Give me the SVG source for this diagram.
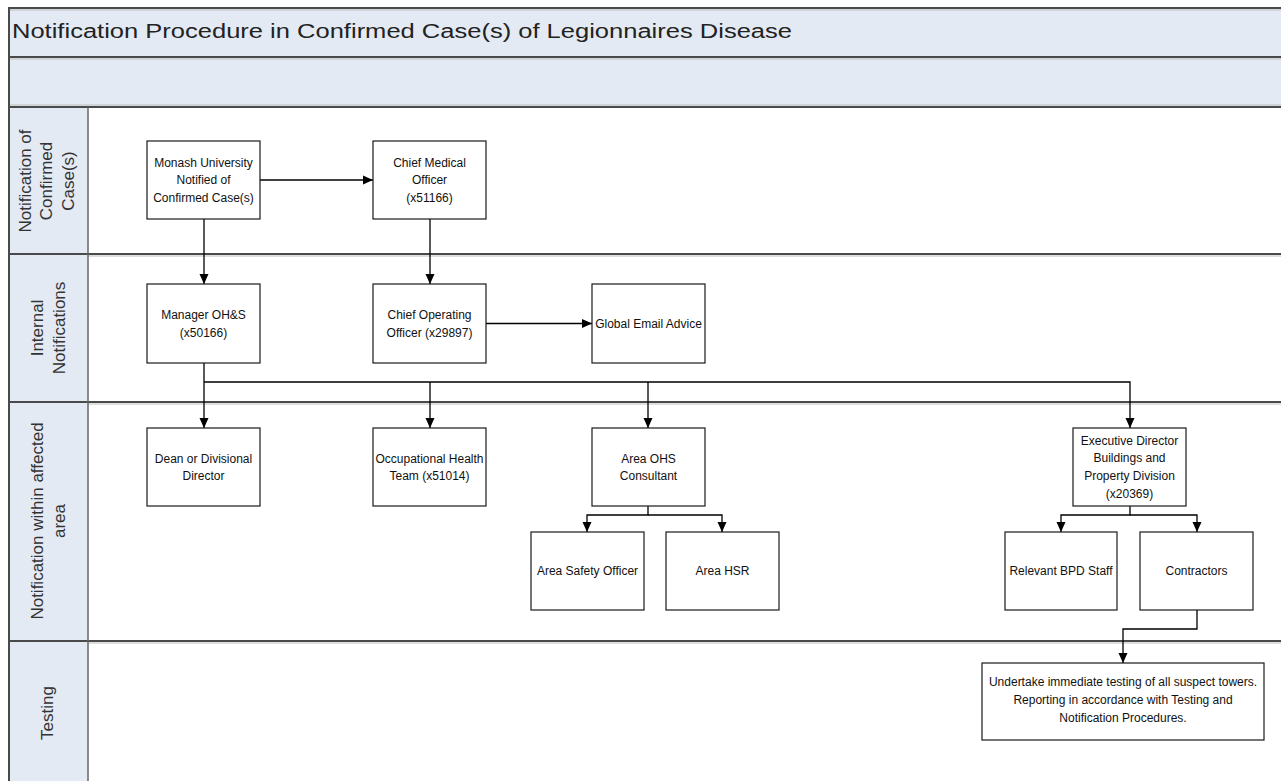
<svg xmlns="http://www.w3.org/2000/svg" width="1281" height="781" viewBox="0 0 1281 781">
<style>
.band{fill:#E4EAF4;stroke:none}
.sep{stroke:#4a4a4a;stroke-width:2;fill:none}
.sepl{stroke:#bdbdbd;stroke-width:1;fill:none}
.node rect{fill:#fff;stroke:#1a1a1a;stroke-width:1.2}
.node text{font-family:"Liberation Sans",Arial,sans-serif;font-size:12px;fill:#111;text-anchor:middle}
.lane text{font-family:"Liberation Sans",Arial,sans-serif;font-size:17px;fill:#333;text-anchor:middle}
.conn path{fill:none;stroke:#000;stroke-width:1.3}
</style>
<defs>
<marker id="arr" markerUnits="userSpaceOnUse" markerWidth="10" markerHeight="10" viewBox="0 0 10 10" refX="10" refY="5" orient="auto">
<path d="M0,0.5 L10,5 L0,9.5 Z" fill="#000"/>
</marker>
</defs>
<rect x="0" y="0" width="1281" height="781" fill="#fff"/>
<g id="frame">
<rect class="band" x="9" y="8" width="1272" height="99"/>
<rect class="band" x="9" y="107" width="79" height="680"/>
<line class="sepl" x1="9" y1="10" x2="1281" y2="10"/>
<line class="sep" x1="9" y1="8" x2="1281" y2="8"/>
<line class="sepl" x1="9" y1="59" x2="1281" y2="59"/>
<line class="sep" x1="9" y1="57" x2="1281" y2="57"/>
<line class="sepl" x1="9" y1="105" x2="1281" y2="105"/>
<line class="sep" x1="9" y1="107" x2="1281" y2="107"/>
<line class="sepl" x1="88" y1="256" x2="1281" y2="256"/>
<line class="sep" x1="9" y1="254" x2="1281" y2="254"/>
<line class="sepl" x1="88" y1="404" x2="1281" y2="404"/>
<line class="sep" x1="9" y1="402" x2="1281" y2="402"/>
<line class="sepl" x1="88" y1="643" x2="1281" y2="643"/>
<line class="sep" x1="9" y1="641" x2="1281" y2="641"/>
<line class="sep" x1="9" y1="7" x2="9" y2="781"/>
<line class="sep" x1="88" y1="107" x2="88" y2="781" style="stroke:#666;stroke-width:1.5"/>
<text x="12" y="38" font-family="'Liberation Sans',Arial,sans-serif" font-size="20" fill="#222" textLength="780" lengthAdjust="spacingAndGlyphs">Notification Procedure in Confirmed Case(s) of Legionnaires Disease</text>
</g>
<g class="lane" id="lane1"><text transform="translate(0,181) rotate(-90)"><tspan x="0" y="31">Notification of</tspan><tspan x="0" y="52">Confirmed</tspan><tspan x="0" y="74">Case(s)</tspan></text></g>
<g class="lane" id="lane2"><text transform="translate(0,328) rotate(-90)"><tspan x="0" y="43">Internal</tspan><tspan x="0" y="65">Notifications</tspan></text></g>
<g class="lane" id="lane3"><text transform="translate(0,521) rotate(-90)"><tspan x="0" y="43">Notification within affected</tspan><tspan x="0" y="65">area</tspan></text></g>
<g class="lane" id="lane4"><text transform="translate(0,713) rotate(-90)"><tspan x="0" y="53">Testing</tspan></text></g>

<g class="conn" id="connectors">
<path d="M260,180 H373" marker-end="url(#arr)"/>
<path d="M204,219 V284" marker-end="url(#arr)"/>
<path d="M430,219 V284" marker-end="url(#arr)"/>
<path d="M486,323.5 H592" marker-end="url(#arr)"/>
<path d="M204,363 V428" marker-end="url(#arr)"/>
<path d="M204,382 H1130 V428" marker-end="url(#arr)"/>
<path d="M430,382 V428" marker-end="url(#arr)"/>
<path d="M648,382 V428" marker-end="url(#arr)"/>
<path d="M648,506 V515 H587 V532" marker-end="url(#arr)"/>
<path d="M648,515 H722 V532" marker-end="url(#arr)"/>
<path d="M1130,506 V515 H1061 V532" marker-end="url(#arr)"/>
<path d="M1130,515 H1197 V532" marker-end="url(#arr)"/>
<path d="M1197,610 V629 H1123 V663" marker-end="url(#arr)"/>
</g>

<g class="node" id="monash"><rect x="147" y="141" width="113" height="78"/><text x="203.5" y="166.5">Monash University</text><text x="203.5" y="184">Notified of</text><text x="203.5" y="201.5">Confirmed Case(s)</text></g>
<g class="node" id="cmo"><rect x="373" y="141" width="113" height="78"/><text x="429.5" y="166.5">Chief Medical</text><text x="429.5" y="184">Officer</text><text x="429.5" y="201.5">(x51166)</text></g>
<g class="node" id="manager"><rect x="147" y="284" width="113" height="79"/><text x="203.5" y="319">Manager OH&amp;S</text><text x="203.5" y="337">(x50166)</text></g>
<g class="node" id="coo"><rect x="373" y="284" width="113" height="79"/><text x="429.5" y="319">Chief Operating</text><text x="429.5" y="337">Officer (x29897)</text></g>
<g class="node" id="email"><rect x="592" y="284" width="113" height="79"/><text x="648.5" y="328">Global Email Advice</text></g>
<g class="node" id="dean"><rect x="147" y="428" width="113" height="78"/><text x="203.5" y="462.5">Dean or Divisional</text><text x="203.5" y="479.5">Director</text></g>
<g class="node" id="occ"><rect x="373" y="428" width="113" height="78"/><text x="429.5" y="462.5">Occupational Health</text><text x="429.5" y="480">Team (x51014)</text></g>
<g class="node" id="ohs"><rect x="592" y="428" width="113" height="78"/><text x="648.5" y="462.5">Area OHS</text><text x="648.5" y="480">Consultant</text></g>
<g class="node" id="exec"><rect x="1073" y="428" width="113" height="78"/><text x="1129.5" y="444.5">Executive Director</text><text x="1129.5" y="462">Buildings and</text><text x="1129.5" y="480">Property Division</text><text x="1129.5" y="497.5">(x20369)</text></g>
<g class="node" id="safety"><rect x="531" y="532" width="113" height="78"/><text x="587.5" y="575">Area Safety Officer</text></g>
<g class="node" id="hsr"><rect x="666" y="532" width="113" height="78"/><text x="722.5" y="575">Area HSR</text></g>
<g class="node" id="bpd"><rect x="1005" y="532" width="112" height="78"/><text x="1061" y="575">Relevant BPD Staff</text></g>
<g class="node" id="contractors"><rect x="1140" y="532" width="113" height="78"/><text x="1196.5" y="575">Contractors</text></g>
<g class="node" id="testing"><rect x="982" y="663" width="282" height="77"/><text x="1123" y="686">Undertake immediate testing of all suspect towers.</text><text x="1123" y="704">Reporting in accordance with Testing and</text><text x="1123" y="722">Notification Procedures.</text></g>
</svg>
